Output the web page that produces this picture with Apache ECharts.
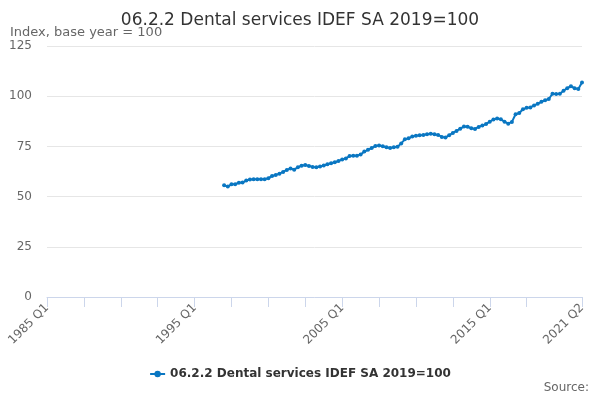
<!DOCTYPE html>
<html>
<head>
<meta charset="utf-8">
<script src="https://cdn.jsdelivr.net/npm/echarts@6/dist/echarts.min.js"></script>
<style>
  html, body { margin: 0; padding: 0; background: #fff; }
  #chart { width: 600px; height: 400px; }
</style>
</head>
<body>
<div id="chart"></div>
<script>
// quarters 1985 Q1 .. 2021 Q2
let quarters = [];
for (let y = 1985; y <= 2021; y++) {
    for (let q = 1; q <= 4; q++) {
        if (y === 2021 && q > 2) break;
        quarters.push(y + ' Q' + q);
    }
}

let seriesName = '06.2.2 Dental services IDEF SA 2019=100';
let firstQuarter = '1997 Q1';
// 1997 Q1 .. 2021 Q2
let dental = [
    55.6, 55.0, 56.1, 56.2, 56.9, 57.0, 58.0, 58.5,
    58.6, 58.6, 58.6, 58.7, 59.2, 60.3, 60.8, 61.4,
    62.3, 63.3, 64.0, 63.4, 64.6, 65.4, 65.7, 65.2,
    64.8, 64.6, 65.0, 65.5, 66.1, 66.6, 67.1, 67.7,
    68.5, 69.0, 70.2, 70.4, 70.4, 71.0, 72.4, 73.3,
    74.2, 75.2, 75.4, 75.1, 74.6, 74.2, 74.6, 74.8,
    76.5, 78.5, 79.1, 79.9, 80.3, 80.5, 80.7, 81.0,
    81.3, 81.1, 80.7, 79.7, 79.4, 80.6, 81.7, 82.7,
    83.8, 84.9, 84.8, 84.1, 83.7, 84.7, 85.4, 86.1,
    87.3, 88.4, 88.9, 88.5, 87.3, 86.3, 87.2, 91.0,
    91.6, 93.5, 94.2, 94.4, 95.4, 96.2, 97.2, 98.0,
    98.6, 101.2, 101.1, 101.2, 102.7, 104.0, 105.0, 104.0,
    103.6, 106.8
];

let offset = quarters.indexOf(firstQuarter);
let seriesData = quarters.map(function (q, i) {
    let v = dental[i - offset];
    return v === undefined ? null : v;
});
let last = quarters.length - 1;

let option = {
    animation: false,
    textStyle: { fontFamily: 'DejaVu Sans' },
    title: {
        text: seriesName,
        left: 'center',
        top: 7,
        textStyle: { fontSize: 17, fontWeight: 'normal', color: '#333' }
    },
    graphic: [
        {
            type: 'text', left: 10, top: 26,
            style: { text: 'Index, base year = 100', fontSize: 13, fill: '#666', fontFamily: 'DejaVu Sans' }
        },
        {
            type: 'text', right: 11, top: 382,
            style: { text: 'Source:', fontSize: 12, fill: '#666', fontFamily: 'DejaVu Sans' }
        }
    ],
    legend: {
        data: [seriesName],
        top: 363,
        left: 'center',
        itemWidth: 15,
        itemHeight: 8,
        textStyle: { fontSize: 12, fontWeight: 'bold', color: '#333' }
    },
    grid: { left: 47, right: 18, top: 46, bottom: 103 },
    xAxis: {
        type: 'category',
        data: quarters,
        boundaryGap: false,
        axisLine: { lineStyle: { color: '#ccd6eb' } },
        axisTick: {
            length: 10,
            lineStyle: { color: '#ccd6eb' },
            interval: function (i) { return (i % 10 === 0 && i <= 130) || i === last; }
        },
        axisLabel: {
            rotate: 45,
            fontSize: 12,
            color: '#666',
            margin: 9,
            interval: function (i) { return i % 40 === 0 || i === last; }
        }
    },
    yAxis: {
        type: 'value',
        min: 0,
        max: 125,
        interval: 25,
        axisLine: { show: false },
        axisTick: { show: false },
        axisLabel: { fontSize: 12, color: '#666', margin: 15 },
        splitLine: { lineStyle: { color: '#e6e6e6' } }
    },
    series: [{
        name: seriesName,
        type: 'line',
        data: seriesData,
        symbol: 'circle',
        symbolSize: 4,
        showAllSymbol: true,
        color: '#0a77c2',
        lineStyle: { width: 2 }
    }]
};

let myChart = echarts.init(document.getElementById('chart'));
myChart.setOption(option);
</script>
</body>
</html>
